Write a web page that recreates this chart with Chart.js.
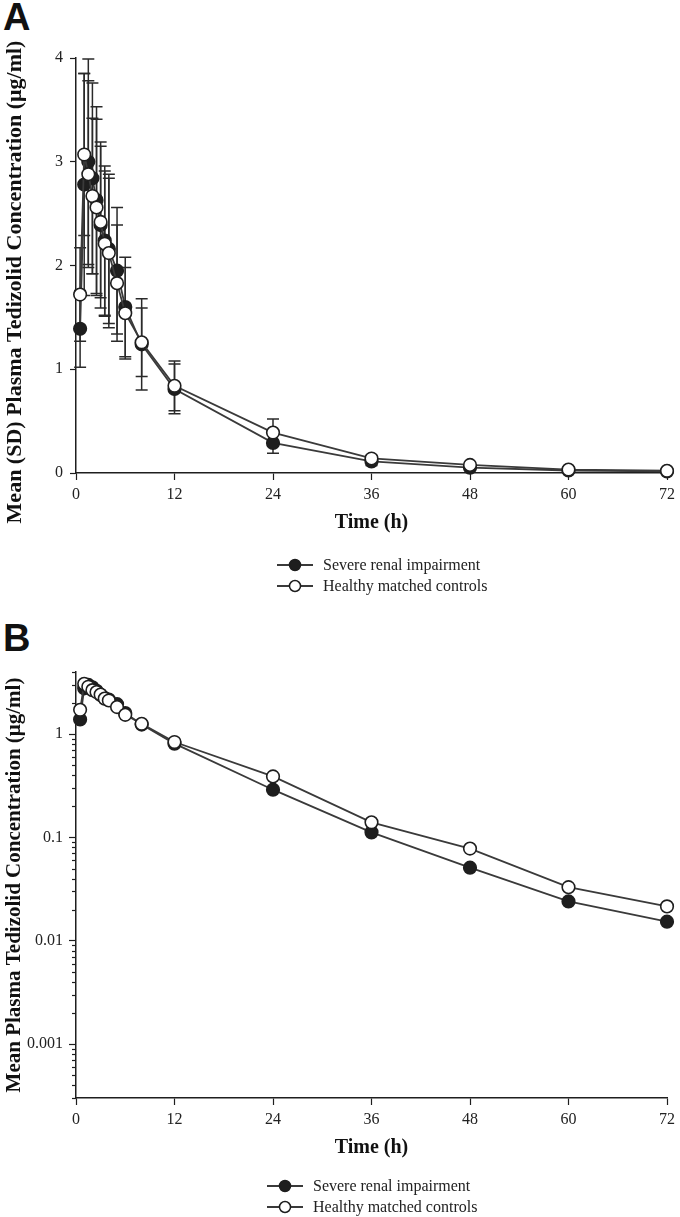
<!DOCTYPE html>
<html><head><meta charset="utf-8">
<script src="https://cdn.jsdelivr.net/npm/chart.js@4/dist/chart.umd.min.js"></script>
<style>
body{margin:0;background:#fff;width:680px;height:1217px;position:relative;overflow:hidden;font-family:"Liberation Serif","Times New Roman",serif;}
canvas.chart{position:absolute;left:0;}
.panel{position:absolute;font-family:"Liberation Sans",Arial,sans-serif;font-weight:bold;font-size:38px;line-height:1;color:#111;}
.legend{position:absolute;font-size:16px;color:#222;}
.legend .row{height:21px;display:flex;align-items:center;white-space:nowrap;}
.legend canvas{margin-right:10px;}
</style></head>
<body>
<div class="panel" style="left:3px;top:-2px">A</div>
<canvas class="chart" id="cA" width="680" height="605" style="top:0"></canvas>
<div class="legend" id="legA" style="left:277px;top:554px"></div>
<div class="panel" style="left:3px;top:619px">B</div>
<canvas class="chart" id="cB" width="680" height="612" style="top:605px"></canvas>
<div class="legend" id="legB" style="left:267px;top:1175px"></div>
<script>
// ---- data ----
const timeH = [0.5, 1, 1.5, 2, 2.5, 3, 3.5, 4, 5, 6, 8, 12, 24, 36, 48, 60, 72];
const severeMean = [1.39, 2.78, 3.00, 2.84, 2.63, 2.39, 2.24, 2.16, 1.95, 1.60, 1.24, 0.81, 0.29, 0.112, 0.051, 0.024, 0.0153];
const severeSD   = [0.37, 1.07, 0.99, 0.92, 0.90, 0.80, 0.72, 0.72, 0.61, 0.48, 0.44, 0.24, 0.10, 0.04, 0.02, 0.01, 0.005];
const healthyMean = [1.72, 3.07, 2.88, 2.67, 2.56, 2.42, 2.21, 2.12, 1.83, 1.54, 1.26, 0.84, 0.39, 0.14, 0.078, 0.033, 0.0215];
const healthySD   = [0.45, 0.78, 0.90, 0.75, 0.85, 0.73, 0.70, 0.72, 0.56, 0.44, 0.33, 0.24, 0.13, 0.03, 0.02, 0.01, 0.005];
const seriesNames = ['Severe renal impairment', 'Healthy matched controls'];
const xTicks = [0, 12, 24, 36, 48, 60, 72];
const linYTicks = [0, 1, 2, 3, 4];
const logYTicks = [0.001, 0.01, 0.1, 1];
const logMinorBase = [2, 3, 4, 5, 6, 7, 8, 9];
const logDecades = [0.0001, 0.001, 0.01, 0.1, 1];

Chart.defaults.font.family = '"Liberation Serif","Times New Roman",serif';
Chart.defaults.color = '#222';

const INK = '#1e1e1e';
const LINE = '#3a3a3a';

function pts(mean){ return timeH.map((t,i)=>({x:t, y:mean[i]})); }

function datasets(){
  return [
    {label: seriesNames[1], data: pts(healthyMean), sd: healthySD, order: 0,
     borderColor: LINE, borderWidth: 1.8, pointRadius: 6.3, pointBorderWidth: 1.6,
     pointBackgroundColor: '#fff', pointBorderColor: INK, clip: false, tension: 0},
    {label: seriesNames[0], data: pts(severeMean), sd: severeSD, order: 1,
     borderColor: LINE, borderWidth: 1.8, pointRadius: 6.3, pointBorderWidth: 1.6,
     pointBackgroundColor: INK, pointBorderColor: INK, clip: false, tension: 0}
  ];
}

const errorBars = {
  id: 'errorBars',
  beforeDatasetsDraw(chart, args, opts){
    if (!opts.enabled) return;
    const {ctx, scales:{x, y}} = chart;
    ctx.save();
    ctx.strokeStyle = '#2a2a2a';
    ctx.lineWidth = 1.5;
    chart.data.datasets.forEach(ds => {
      ds.data.forEach((p, i) => {
        const sd = ds.sd[i];
        const px = x.getPixelForValue(p.x);
        const yt = y.getPixelForValue(p.y + sd);
        const yb = y.getPixelForValue(Math.max(p.y - sd, 0));
        ctx.beginPath();
        ctx.moveTo(px, yt); ctx.lineTo(px, yb);
        ctx.moveTo(px - 6, yt); ctx.lineTo(px + 6, yt);
        ctx.moveTo(px - 6, yb); ctx.lineTo(px + 6, yb);
        ctx.stroke();
      });
    });
    ctx.restore();
  }
};

const minorTicks = {
  id: 'minorTicks',
  afterDraw(chart, args, opts){
    if (!opts.enabled) return;
    const {ctx, scales:{y}} = chart;
    ctx.save();
    ctx.strokeStyle = INK; ctx.lineWidth = 1.2;
    const left = y.right;
    logDecades.forEach(d => {
      logMinorBase.forEach(m => {
        const v = d * m;
        if (v < y.min - 1e-12 || v > y.max + 1e-12) return;
        const py = Math.round(y.getPixelForValue(v)) + 0.5;
        ctx.beginPath(); ctx.moveTo(left - 4, py); ctx.lineTo(left, py); ctx.stroke();
      });
    });
    ctx.restore();
  }
};

function baseX(){
  return {
    type: 'linear', min: 0, max: 72,
    afterBuildTicks: s => { s.ticks = xTicks.map(v => ({value: v})); },
    afterFit: s => { s.height = 62; },
    grid: {drawOnChartArea: false, drawTicks: true, tickLength: 7, color: INK, tickWidth: 1.2},
    border: {display: true, color: INK, width: 1.5},
    ticks: {font: {size: 16}, padding: 5, color: '#222', maxRotation: 0},
    title: {display: true, text: 'Time (h)', font: {size: 20, weight: 'bold'}, color: '#111', padding: {top: 0, bottom: 0}}
  };
}

function yTitle(text, size){
  return {display: true, text, font: {size, weight: 'bold'}, color: '#111', padding: {top: 2, bottom: 0}};
}

new Chart(document.getElementById('cA'), {
  type: 'line',
  data: {datasets: datasets()},
  plugins: [errorBars],
  options: {
    responsive: false, animation: false, devicePixelRatio: 1,
    layout: {padding: {left: 0, right: 12, top: 58, bottom: 70}},
    plugins: {legend: {display: false}, tooltip: {enabled: false}, errorBars: {enabled: true}},
    scales: {
      x: baseX(),
      y: {
        type: 'linear', min: 0, max: 4,
        afterBuildTicks: s => { s.ticks = linYTicks.map(v => ({value: v})); },
        afterFit: s => { s.width = 76; },
        grid: {drawOnChartArea: false, drawTicks: true, tickLength: 6, color: INK, tickWidth: 1.2},
        border: {display: true, color: INK, width: 1.5},
        ticks: {font: {size: 16}, padding: 7, color: '#222'},
        title: yTitle('Mean (SD) Plasma Tedizolid Concentration (μg/ml)      ', 22)
      }
    }
  }
});

new Chart(document.getElementById('cB'), {
  type: 'line',
  data: {datasets: datasets()},
  plugins: [minorTicks],
  options: {
    responsive: false, animation: false, devicePixelRatio: 1,
    layout: {padding: {left: 0, right: 12, top: 67, bottom: 57}},
    plugins: {legend: {display: false}, tooltip: {enabled: false}, minorTicks: {enabled: true}},
    scales: {
      x: baseX(),
      y: {
        type: 'logarithmic', min: 0.0003, max: 4,
        afterBuildTicks: s => { s.ticks = logYTicks.map(v => ({value: v})); },
        afterFit: s => { s.width = 76; },
        grid: {drawOnChartArea: false, drawTicks: true, tickLength: 7, color: INK, tickWidth: 1.2},
        border: {display: true, color: INK, width: 1.5},
        ticks: {font: {size: 16}, padding: 6, color: '#222', callback: v => String(v)},
        title: yTitle('Mean Plasma Tedizolid Concentration (μg/ml)', 21)
      }
    }
  }
});

function symbol(filled){
  const c = document.createElement('canvas');
  c.width = 36; c.height = 16;
  const g = c.getContext('2d');
  g.strokeStyle = LINE; g.lineWidth = 1.8;
  g.beginPath(); g.moveTo(0, 8); g.lineTo(36, 8); g.stroke();
  g.beginPath(); g.arc(18, 8, 5.5, 0, Math.PI * 2);
  g.fillStyle = filled ? INK : '#fff'; g.fill();
  g.strokeStyle = INK; g.lineWidth = 1.5; g.stroke();
  return c;
}
function buildLegend(id){
  const el = document.getElementById(id);
  seriesNames.forEach((name, i) => {
    const row = document.createElement('div'); row.className = 'row';
    row.appendChild(symbol(i === 0));
    const sp = document.createElement('span'); sp.textContent = name;
    row.appendChild(sp); el.appendChild(row);
  });
}
buildLegend('legA'); buildLegend('legB');
</script>
</body></html>
